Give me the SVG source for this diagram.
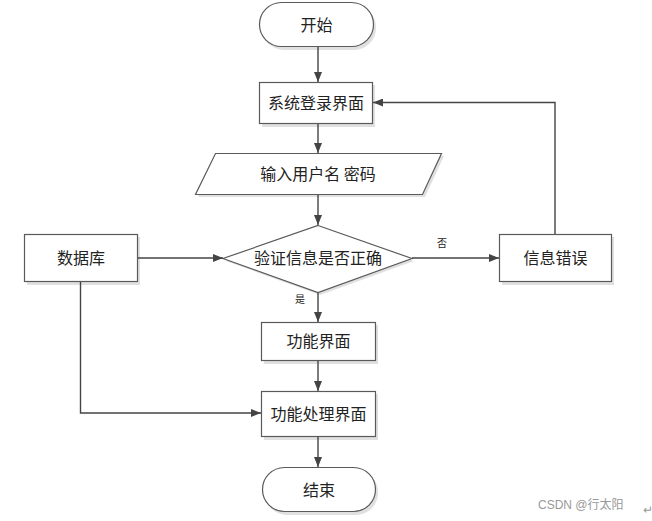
<svg xmlns="http://www.w3.org/2000/svg" width="652" height="521" viewBox="0 0 652 521">
<style>
.n{fill:#fff;stroke:#5a5a5a;stroke-width:1.2}
.sh{fill:#e0e0e0;stroke:none}
.t{font-family:"Noto Sans CJK SC","Liberation Sans",sans-serif;font-size:16px;fill:#222;text-anchor:middle;dominant-baseline:central}
.l{font-family:"Noto Sans CJK SC","Liberation Sans",sans-serif;font-size:10px;fill:#222;text-anchor:middle;dominant-baseline:central}
.c{fill:none;stroke:#444;stroke-width:1.4}
.w{font-family:"Liberation Sans","Noto Sans CJK SC",sans-serif;font-size:12px;fill:#999}
</style>
<defs>
<marker id="a" markerWidth="10" markerHeight="8" refX="10" refY="4" orient="auto" markerUnits="userSpaceOnUse">
<path d="M0,0 L10,4 L0,8 Z" fill="#444"/>
</marker>
</defs>
<rect width="652" height="521" fill="#fff"/>
<g id="start">
<rect class="sh" x="262" y="5" width="114" height="45" rx="22"/>
<rect class="n" x="259.5" y="2.5" width="114" height="44" rx="22"/>
<text class="t" x="316.5" y="23.5">开始</text>
</g>
<g id="login">
<rect class="sh" x="262" y="85" width="113" height="42"/>
<rect class="n" x="259.5" y="82.5" width="113" height="41"/>
<text class="t" x="316" y="101.5">系统登录界面</text>
</g>
<g id="input">
<polygon class="sh" points="218,156 444,156 425,197 198,197"/>
<polygon class="n" points="215.5,153.5 441.5,153.5 422.5,194.5 195.5,194.5"/>
<text class="t" x="318" y="172.5">输入用户名 密码</text>
</g>
<g id="verify">
<polygon class="sh" points="320,228 414,261 320,295 226,261"/>
<polygon class="n" points="318,225.5 412,258.5 318,292.5 223,258.5"/>
<text class="t" x="318" y="257">验证信息是否正确</text>
</g>
<g id="db">
<rect class="sh" x="27" y="237" width="113" height="48"/>
<rect class="n" x="24.5" y="234.5" width="113" height="47"/>
<text class="t" x="81" y="256.5">数据库</text>
</g>
<g id="error">
<rect class="sh" x="502" y="237" width="112" height="48"/>
<rect class="n" x="499.5" y="234.5" width="112" height="47"/>
<text class="t" x="555.5" y="256.5">信息错误</text>
</g>
<g id="func">
<rect class="sh" x="264" y="325" width="114" height="39"/>
<rect class="n" x="261.5" y="322.5" width="114" height="38"/>
<text class="t" x="318.5" y="340">功能界面</text>
</g>
<g id="proc">
<rect class="sh" x="264" y="394" width="114" height="46"/>
<rect class="n" x="261.5" y="391.5" width="114" height="45"/>
<text class="t" x="318.5" y="412.5">功能处理界面</text>
</g>
<g id="end">
<rect class="sh" x="265" y="470" width="113" height="45" rx="22"/>
<rect class="n" x="262.5" y="467.5" width="113" height="44" rx="22"/>
<text class="t" x="319" y="488.5">结束</text>
</g>
<g id="connectors">
<path class="c" d="M318,47 V82" marker-end="url(#a)"/>
<path class="c" d="M318,124 V153" marker-end="url(#a)"/>
<path class="c" d="M318,195 V225" marker-end="url(#a)"/>
<path class="c" d="M318,293 V322" marker-end="url(#a)"/>
<path class="c" d="M318,361 V391" marker-end="url(#a)"/>
<path class="c" d="M318,437 V467" marker-end="url(#a)"/>
<path class="c" d="M138,258 H223" marker-end="url(#a)"/>
<path class="c" d="M412,258 H499" marker-end="url(#a)"/>
<path class="c" d="M555,234 V102.5 H373" marker-end="url(#a)"/>
<path class="c" d="M80.5,282 V413 H261" marker-end="url(#a)"/>
<text class="l" x="442" y="242">否</text>
<text class="l" x="300" y="298">是</text>
</g>
<text class="w" x="538" y="509">CSDN @行太阳</text>
<text class="w" x="643" y="514" font-size="10">↵</text>
</svg>
